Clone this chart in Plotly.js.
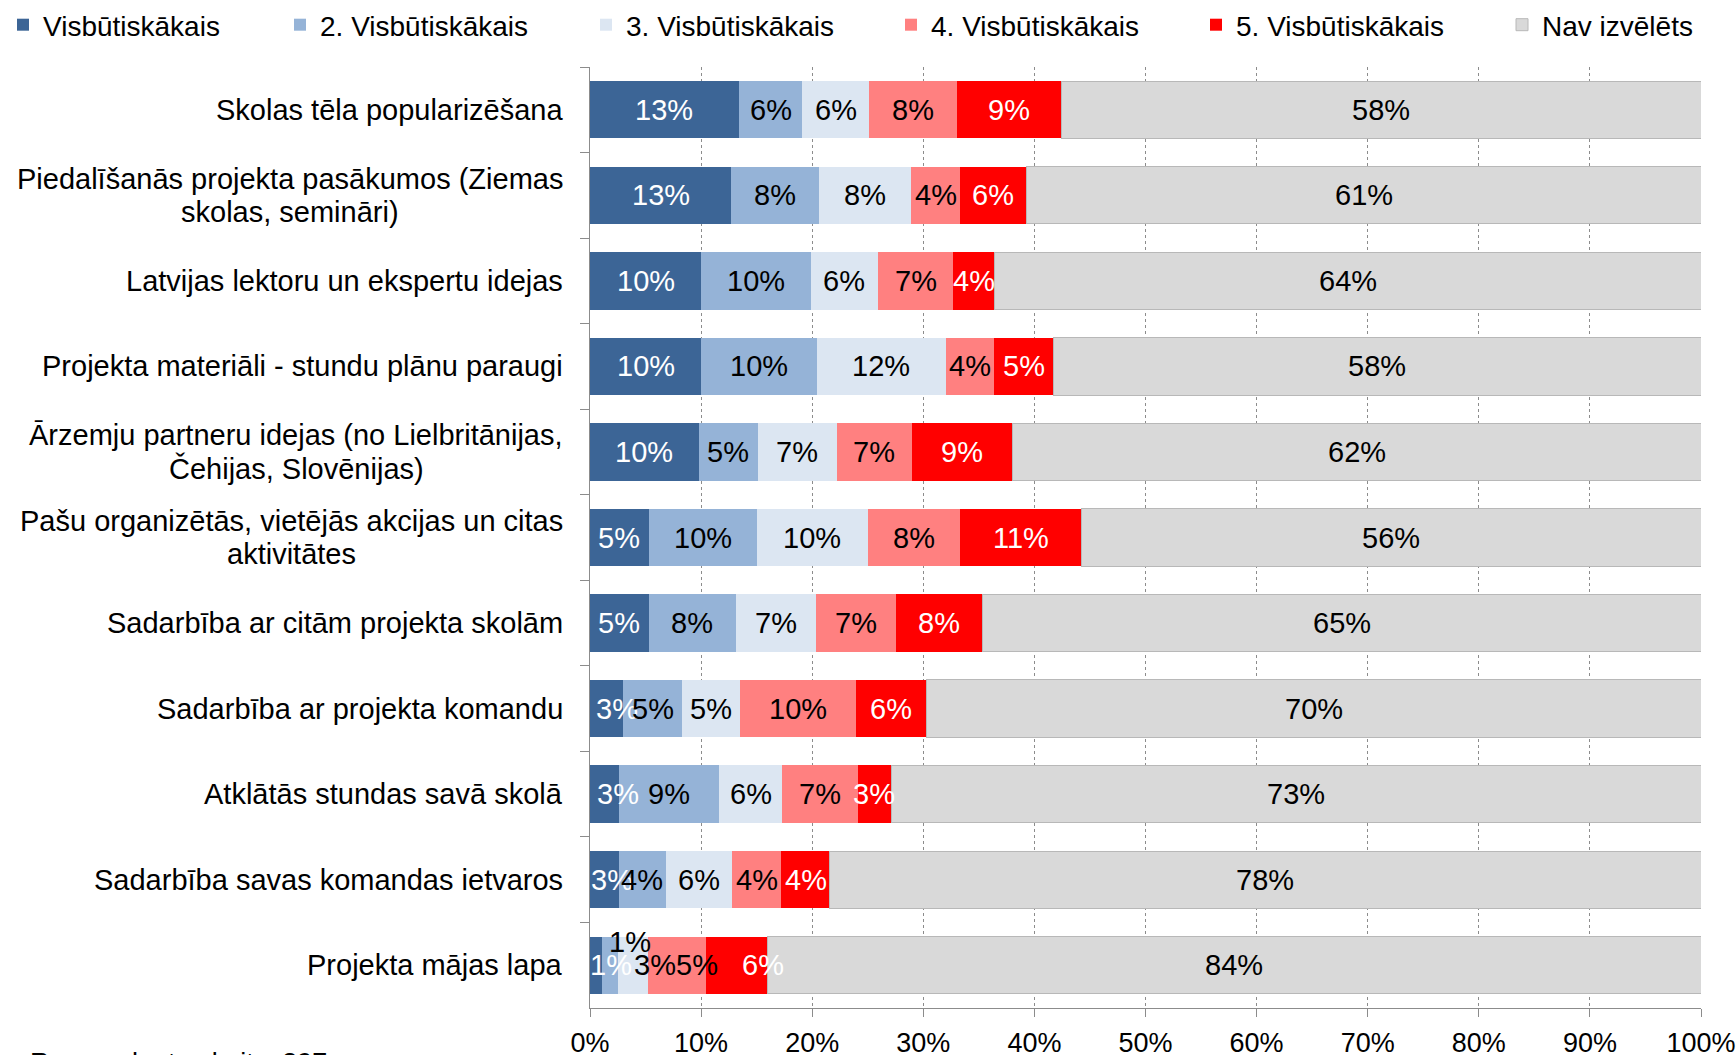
<!DOCTYPE html>
<html>
<head>
<meta charset="utf-8">
<script src="https://cdn.plot.ly/plotly-3.0.1.min.js"></script>
<style>html,body{margin:0;padding:0;background:#fff;}#chart{width:1736px;height:1055px;}</style>
</head>
<body>
<div id="chart"></div>
<script>
const categories = [
  "Skolas tēla popularizēšana",
  "Piedalīšanās projekta pasākumos (Ziemas<br>skolas, semināri)",
  "Latvijas lektoru un ekspertu idejas",
  "Projekta materiāli - stundu plānu paraugi",
  "Ārzemju partneru idejas (no Lielbritānijas,<br>Čehijas, Slovēnijas)",
  "Pašu organizētās, vietējās akcijas un citas<br>aktivitātes",
  "Sadarbība ar citām projekta skolām",
  "Sadarbība ar projekta komandu",
  "Atklātās stundas savā skolā",
  "Sadarbība savas komandas ietvaros",
  "Projekta mājas lapa"
];
const seriesNames = ["Visbūtiskākais", "2. Visbūtiskākais", "3. Visbūtiskākais", "4. Visbūtiskākais", "5. Visbūtiskākais", "Nav izvēlēts"];
const s1 = [13.4, 12.7, 10.0, 10.0, 9.8, 5.3, 5.3, 3.0, 2.6, 2.6, 1.1];
const s2 = [5.7, 7.9, 9.9, 10.4, 5.3, 9.7, 7.8, 5.3, 9.0, 4.2, 1.4];
const s3 = [6.0, 8.3, 6.0, 11.6, 7.1, 10.0, 7.2, 5.2, 5.7, 6.0, 2.7];
const s4 = [7.9, 4.4, 6.8, 4.4, 6.8, 8.3, 7.2, 10.4, 6.8, 4.4, 5.2];
const s5 = [9.4, 6.0, 3.7, 5.3, 9.0, 10.9, 7.8, 6.4, 3.0, 4.4, 5.6];
const s6 = [57.6, 60.7, 63.6, 58.3, 62.0, 55.8, 64.7, 69.7, 72.9, 78.4, 84.0];
const xTicks = [0,10,20,30,40,50,60,70,80,90,100];
const footnote = "Respondentu skaits: 397";

const series = [s1, s2, s3, s4, s5, s6];
const colors = ["#3C6596", "#95B3D7", "#DCE6F2", "#FF8080", "#FF0000", "#D9D9D9"];
const labelColors = ["#ffffff", "#000000", "#000000", "#000000", "#ffffff", "#000000"];
const FONT = "Liberation Sans, Arial, sans-serif";
const W = 1736;
// legend entry left positions (px) — one legend box per series
const legendPx = [3, 280, 586, 891, 1196, 1502];

// manual label nudges (category index, series index) -> [xshift, yshift]
const nudges = {
  "7,0": [10, 0], "8,0": [14, 0], "9,0": [8, 0],
  "10,0": [15, 0], "10,1": [20, 23], "10,2": [22, 0], "10,3": [20, 0], "10,4": [26, 0]
};

const traces = series.map((vals, i) => ({
  type: "bar",
  orientation: "h",
  name: seriesNames[i],
  legend: i === 0 ? "legend" : "legend" + (i + 1),
  y: categories,
  x: vals,
  marker: { color: colors[i], line: { color: i === 5 ? "#b8b8b8" : colors[i], width: i === 5 ? 1 : 0 } },
  hoverinfo: "x+name"
}));

const annotations = [];
categories.forEach((cat, ci) => {
  let cum = 0;
  series.forEach((vals, si) => {
    const v = vals[ci];
    const n = nudges[ci + "," + si] || [0, 0];
    annotations.push({
      x: cum + v / 2, y: cat, xref: "x", yref: "y",
      text: Math.round(v) + "%", showarrow: false,
      xshift: n[0], yshift: n[1],
      font: { family: FONT, size: 29, color: labelColors[si] }
    });
    cum += v;
  });
  const lines = cat.split("<br>");
  lines.forEach((ln, k) => {
    annotations.push({
      x: 0, y: cat, xref: "paper", yref: "y", xanchor: "right", xshift: -25,
      yshift: ((lines.length - 1) / 2 - k) * 33,
      text: ln, showarrow: false, align: "center",
      font: { family: FONT, size: 29, color: "#000" },
      _group: ci, _n: lines.length
    });
  });
});
annotations.push({
  x: 0, xref: "paper", xshift: -562, xanchor: "left",
  y: -0.0585, yref: "paper", yanchor: "middle",
  text: footnote, showarrow: false,
  font: { family: FONT, size: 27, color: "#000" }
});

// centre multi-line labels on each other
const ctx = document.createElement("canvas").getContext("2d");
ctx.font = "29px 'Liberation Sans'";
const groups = {};
annotations.forEach(a => { if (a._n > 1) { (groups[a._group] = groups[a._group] || []).push(a); } });
Object.values(groups).forEach(g => {
  const widths = g.map(a => ctx.measureText(a.text).width);
  const maxW = Math.max(...widths);
  g.forEach((a, k) => { a.xshift = -25 - (maxW - widths[k]) / 2; });
});
annotations.forEach(a => { delete a._group; delete a._n; });

const layout = {
  width: 1736, height: 1055,
  margin: { l: 590, r: 35, t: 67, b: 47 },
  barmode: "stack",
  bargap: 0.33,
  paper_bgcolor: "#fff", plot_bgcolor: "#fff",
  font: { family: FONT, size: 27, color: "#000" },
  showlegend: true,
  xaxis: {
    range: [0, 100], tickvals: xTicks, ticktext: xTicks.map(t => t + "%"),
    showgrid: true, gridcolor: "#8c8c8c", griddash: "dot", gridwidth: 1,
    showline: true, linecolor: "#8c8c8c", linewidth: 1,
    ticks: "outside", ticklen: 8, tickcolor: "#8c8c8c",
    ticklabelstandoff: 3,
    tickfont: { family: FONT, size: 27, color: "#000" },
    zeroline: false, fixedrange: true
  },
  yaxis: {
    type: "category", autorange: "reversed",
    showticklabels: false,
    tickson: "boundaries", ticks: "outside", ticklen: 9, tickcolor: "#8c8c8c",
    showline: true, linecolor: "#8c8c8c", linewidth: 1,
    showgrid: false, zeroline: false, fixedrange: true
  },
  annotations: annotations
};
legendPx.forEach((px, i) => {
  layout[i === 0 ? "legend" : "legend" + (i + 1)] = {
    orientation: "h", xref: "container", yref: "container",
    x: px / W, y: 1.0, xanchor: "left", yanchor: "top",
    font: { family: FONT, size: 28, color: "#000" },
    bgcolor: "rgba(0,0,0,0)", itemwidth: 30
  };
});

Plotly.newPlot("chart", traces, layout, { displayModeBar: false, staticPlot: true });
</script>
</body>
</html>
